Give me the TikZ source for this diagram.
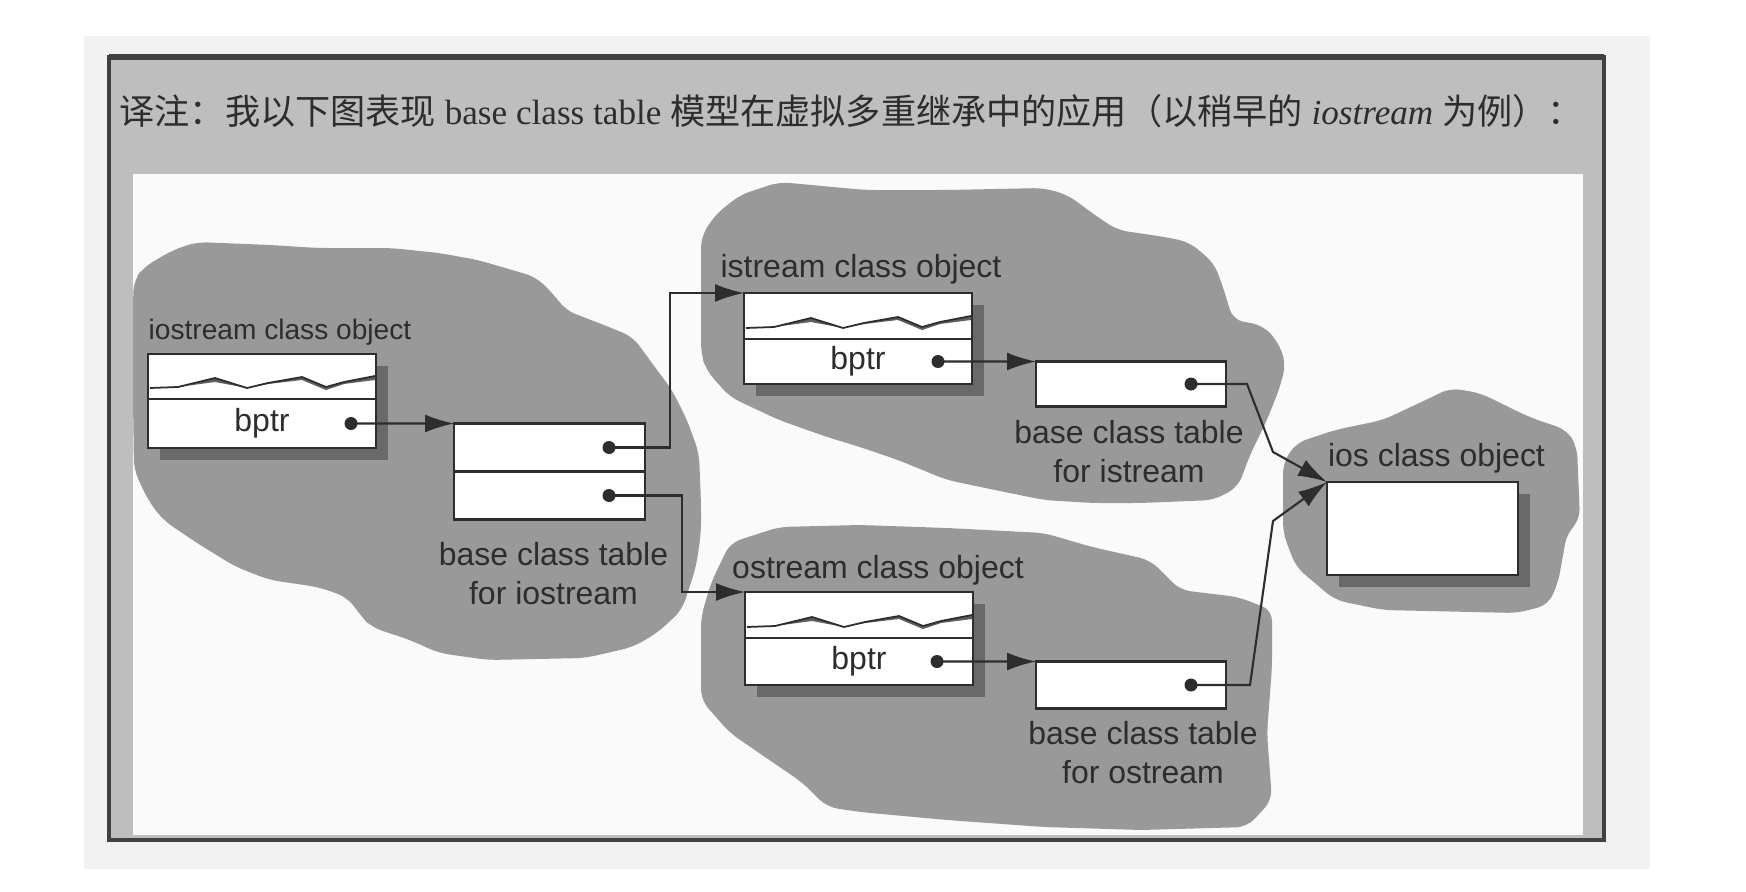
\documentclass[tikz,border=0pt]{standalone}
\usepackage{fontspec}
\setmainfont{Liberation Sans}
\newfontfamily\titlefont{Liberation Serif}
\newfontfamily\cjk{Noto Sans CJK SC}
\usetikzlibrary{arrows.meta,positioning,shadows}

% wavy "data" line in the upper cell of a class object
\newcommand{\objwave}[1]{%
  \begin{scope}[shift={(#1.south west)}]
    \fill[cWave] (0.02,0.11) -- (0.30,0.12) -- (0.67,0.21) -- (0.99,0.11) -- (1.20,0.16)
      -- (1.54,0.22) -- (1.78,0.12) -- (1.96,0.17) -- (2.27,0.23)
      -- (2.27,0.19) -- (1.96,0.15) -- (1.78,0.09) -- (1.54,0.19) -- (1.20,0.15)
      -- (0.99,0.11) -- (0.67,0.17) -- (0.30,0.12) -- cycle;
    \draw[cLine,line width=0.5pt] (0.02,0.11) -- (0.30,0.12) -- (0.67,0.21) -- (0.99,0.11)
      -- (1.20,0.16) -- (1.54,0.22) -- (1.78,0.12) -- (1.96,0.17) -- (2.27,0.23);
  \end{scope}}

\begin{document}
\begin{tikzpicture}[
  cell/.style={draw=cLine,line width=0.8pt,fill=white,inner sep=0pt,outer sep=0pt,
    minimum width=2.28cm,font=\fontsize{9.1}{11.1}\selectfont,text=cText},
  objcell/.style={cell,drop shadow={shadow xshift=0.12cm,shadow yshift=-0.12cm,
    fill=cShade,opacity=1}},
  tabcell/.style={cell,minimum width=1.90cm},
  lbl/.style={font=\fontsize{9.1}{11.1}\selectfont,text=cText,inner sep=0pt,align=center},
  ptr/.style={cLine,line width=0.6pt,-{Latex[length=2.9mm,width=1.8mm]}},
  dot/.style={circle,fill=cLine,inner sep=0pt,minimum size=1.3mm}
]
  \definecolor{cBlob}{RGB}{153,153,153}
  \definecolor{cBand}{RGB}{190,190,190}
  \definecolor{cPaper}{RGB}{250,250,250}
  \definecolor{cOuter}{RGB}{242,242,242}
  \definecolor{cShade}{RGB}{105,105,105}
  \definecolor{cLine}{RGB}{45,45,45}
  \definecolor{cText}{RGB}{45,45,45}
  \definecolor{cFrame}{RGB}{65,65,65}
  \definecolor{cWave}{RGB}{95,95,95}

  \useasboundingbox (0,0) rectangle (17.46,-8.92);
  \fill[white] (0,0) rectangle (17.46,-8.92);
  \fill[cOuter] (0.84,-0.36) rectangle (16.50,-8.69);

  % frame, title band and paper
  \fill[cBand] (1.09,-0.57) rectangle (16.04,-8.40);
  \fill[cPaper] (1.33,-1.74) rectangle (15.83,-8.35);
  \draw[cFrame,line width=0.9pt] (1.09,-0.57) rectangle (16.04,-8.40);
  \draw[cFrame,line width=1.6pt] (1.09,-0.57) -- (16.04,-0.57);

  % title
  \node[anchor=west,inner sep=0pt,text=cText,font=\titlefont\fontsize{10}{12}\selectfont]
    (title) at (1.19,-1.11)
    {{\cjk 译注：我以下图表现}\ base class table\ {\cjk 模型在虚拟多重继承中的应用（以稍早的}\ \textit{iostream}\ {\cjk 为例）：}};

  % --- blobs ---
  \fill[cBlob,rounded corners=3pt] (1.34,-2.80) -- (1.44,-2.67) -- (1.73,-2.50) -- (1.97,-2.42)
    -- (2.70,-2.45) -- (3.18,-2.48) -- (3.91,-2.48) -- (4.39,-2.53) -- (4.78,-2.60) -- (5.12,-2.70)
    -- (5.36,-2.77) -- (5.56,-2.97) -- (5.65,-3.10) -- (6.09,-3.27) -- (6.33,-3.37) -- (6.57,-3.70)
    -- (6.72,-3.90) -- (6.87,-4.20) -- (6.99,-4.53) -- (7.01,-5.03) -- (7.01,-5.33) -- (6.96,-5.67)
    -- (6.82,-6.10) -- (6.57,-6.33) -- (6.33,-6.47) -- (5.85,-6.58) -- (4.88,-6.60) -- (4.39,-6.53)
    -- (4.10,-6.40) -- (3.71,-6.27) -- (3.62,-6.17) -- (3.47,-5.97) -- (3.18,-5.87) -- (2.70,-5.80)
    -- (2.36,-5.67) -- (1.97,-5.43) -- (1.63,-5.20) -- (1.48,-5.00) -- (1.34,-4.70) -- (1.33,-4.00)
    -- (1.33,-3.00) -- cycle;
  \fill[cBlob,rounded corners=3pt] (7.01,-2.37) -- (7.15,-2.15) -- (7.40,-1.95) -- (7.79,-1.82)
    -- (8.65,-1.90) -- (9.47,-1.90) -- (10.44,-1.88) -- (10.68,-1.95) -- (10.92,-2.13) -- (11.17,-2.30)
    -- (11.65,-2.37) -- (11.89,-2.42) -- (12.14,-2.63) -- (12.23,-2.87) -- (12.33,-3.20) -- (12.62,-3.25)
    -- (12.77,-3.40) -- (12.86,-3.63) -- (12.80,-3.87) -- (12.67,-4.20) -- (12.50,-4.55) -- (12.38,-4.87)
    -- (12.14,-5.00) -- (11.41,-5.03) -- (10.92,-5.03) -- (10.44,-5.00) -- (9.95,-4.90) -- (9.47,-4.80)
    -- (8.98,-4.60) -- (8.60,-4.47) -- (8.27,-4.37) -- (7.79,-4.20) -- (7.30,-3.97) -- (7.06,-3.70)
    -- (7.01,-3.53) -- cycle;
  \fill[cBlob,rounded corners=3pt] (12.83,-4.63) -- (12.96,-4.43) -- (13.35,-4.30) -- (13.83,-4.20)
    -- (14.32,-3.97) -- (14.50,-3.88) -- (14.80,-3.93) -- (15.29,-4.17) -- (15.67,-4.30) -- (15.77,-4.47)
    -- (15.80,-5.20) -- (15.67,-5.33) -- (15.58,-5.83) -- (15.48,-6.05) -- (15.17,-6.13) -- (13.83,-6.10)
    -- (13.35,-6.00) -- (12.96,-5.67) -- (12.83,-5.33) -- cycle;
  \fill[cBlob,rounded corners=3pt] (7.11,-5.83) -- (7.30,-5.43) -- (7.79,-5.27) -- (8.60,-5.25)
    -- (9.47,-5.28) -- (10.44,-5.33) -- (10.92,-5.47) -- (11.50,-5.60) -- (11.80,-5.90) -- (12.38,-5.97)
    -- (12.72,-6.10) -- (12.72,-6.67) -- (12.67,-7.33) -- (12.72,-8.00) -- (12.47,-8.27) -- (11.41,-8.30)
    -- (10.44,-8.27) -- (9.47,-8.20) -- (8.60,-8.12) -- (8.27,-8.07) -- (8.03,-7.83) -- (7.30,-7.33)
    -- (7.01,-7.00) -- (7.01,-6.17) -- cycle;

  % --- iostream object and its table ---
  \node[objcell,minimum height=0.45cm,anchor=north west] (ioTop) at (1.48,-3.54) {};
  \node[objcell,minimum height=0.49cm,below=0pt of ioTop] (ioPtr) {bptr};
  \objwave{ioTop}
  \node[dot] (ioD) at ([xshift=-0.25cm]ioPtr.east) {};
  \node[lbl,anchor=base west,font=\fontsize{8}{9.6}\selectfont] (ioLbl)
    at ([yshift=0.15cm]ioTop.north west) {iostream class object};

  \node[tabcell,minimum width=1.91cm,minimum height=0.48cm,anchor=north west] (iotab1) at (4.54,-4.235) {};
  \node[tabcell,minimum width=1.91cm,minimum height=0.48cm,below=0pt of iotab1] (iotab2) {};
  \node[dot] (iotD1) at ([xshift=-0.36cm]iotab1.east) {};
  \node[dot] (iotD2) at ([xshift=-0.36cm]iotab2.east) {};
  \node[lbl,anchor=north] (iotLbl) at ([xshift=0.04cm,yshift=-0.22cm]iotab2.south)
    {base class table\\for iostream};

  % --- istream object and its table ---
  \node[objcell,minimum height=0.46cm,anchor=north west] (istTop) at (7.44,-2.93) {};
  \node[objcell,minimum height=0.45cm,below=0pt of istTop] (istPtr) {bptr};
  \objwave{istTop}
  \node[dot] (istD) at ([xshift=-0.34cm]istPtr.east) {};
  \node[lbl,anchor=base] (istLbl) at ([xshift=0.03cm,yshift=0.16cm]istTop.north) {istream class object};

  \node[tabcell,minimum height=0.45cm,anchor=north west] (isttab) at (10.36,-3.615) {};
  \node[dot] (istTD) at ([xshift=-0.35cm]isttab.east) {};
  \node[lbl,anchor=north] (istTLbl) at ([xshift=-0.02cm,yshift=-0.13cm]isttab.south)
    {base class table\\for istream};

  % --- ostream object and its table ---
  \node[objcell,minimum height=0.46cm,anchor=north west] (ostTop) at (7.45,-5.92) {};
  \node[objcell,minimum height=0.47cm,below=0pt of ostTop] (ostPtr) {bptr};
  \objwave{ostTop}
  \node[dot] (ostD) at ([xshift=-0.36cm]ostPtr.east) {};
  \node[lbl,anchor=base] (ostLbl) at ([xshift=0.19cm,yshift=0.14cm]ostTop.north) {ostream class object};

  \node[tabcell,minimum height=0.47cm,anchor=north west] (osttab) at (10.36,-6.615) {};
  \node[dot] (ostTD) at ([xshift=-0.35cm]osttab.east) {};
  \node[lbl,anchor=north] (ostTLbl) at ([xshift=0.12cm,yshift=-0.12cm]osttab.south)
    {base class table\\for ostream};

  % --- ios object ---
  \node[objcell,minimum width=1.91cm,minimum height=0.93cm,anchor=north west] (ios) at (13.27,-4.82) {};
  \node[lbl,anchor=base] (iosLbl) at ([xshift=0.14cm,yshift=0.16cm]ios.north) {ios class object};

  % pointers
  \draw[ptr] (ioD.center) -- (iotab1.north west);
  \draw[ptr] (iotD1.center) -- ++(0.61,0) |- (istTop.north west);
  \draw[ptr] (iotD2.center) -- ++(0.73,0) |- (ostTop.north west);
  \draw[ptr] (istD.center) -- (isttab.north west);
  \draw[ptr] (ostD.center) -- (osttab.north west);
  \draw[ptr] (istTD.center) -- ++(0.56,0) -- ++(0.26,-0.68) -- (ios.north west);
  \draw[ptr] (ostTD.center) -- ++(0.59,0) -- ++(0.23,1.64) -- (ios.north west);
\end{tikzpicture}
\end{document}
